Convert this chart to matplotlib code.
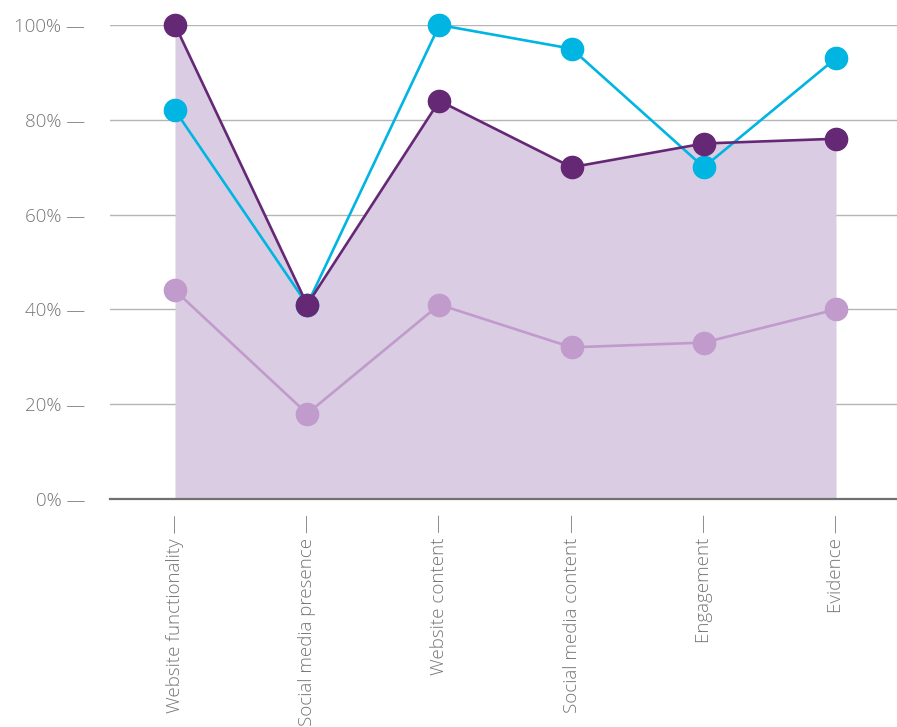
import matplotlib
matplotlib.use("Agg")
import matplotlib.pyplot as plt
import numpy as np

categories = ["Website functionality", "Social media presence", "Website content",
              "Social media content", "Engagement", "Evidence"]
dark_purple = [100, 41, 84, 70, 75, 76]
cyan = [82, 41, 100, 95, 70, 93]
light_purple = [44, 18, 41, 32, 33, 40]
y_ticks = [0, 20, 40, 60, 80, 100]

plt.rcParams['font.family'] = ['Open Sans', 'DejaVu Sans']

fig = plt.figure(figsize=(8.97, 7.27), dpi=100)
ax = fig.add_axes([110 / 897, 1 - 499 / 727, 787 / 897, 474 / 727])

x = np.arange(len(categories))

ax.fill_between(x, 0, dark_purple, color="#dacde3", lw=0, zorder=1)

for yt in y_ticks[1:]:
    ax.axhline(yt, color="#b5b5b5", lw=1.0, zorder=0.5)

ax.plot(x, light_purple, color="#c09bcb", lw=1.9, marker="o", ms=16, zorder=3, clip_on=False)
ax.plot(x, cyan, color="#00b5e2", lw=1.9, marker="o", ms=16, zorder=4, clip_on=False)
ax.plot(x, dark_purple, color="#652875", lw=1.9, marker="o", ms=16, zorder=5, clip_on=False)

ax.set_xlim(-(175 - 110) / 132.2, 5 + (897 - 836) / 132.2)
ax.set_ylim(0, 100)

ax.set_yticks(y_ticks)
ax.set_yticklabels([f"{v}% \u2014" for v in y_ticks], color="#767676", fontsize=13.5,
                   fontweight="light")
ax.set_xticks(x)
ax.set_xticklabels([c + " \u2014" for c in categories], rotation=90, color="#767676",
                   fontsize=13.5, fontweight="light", va="top", ha="center")
ax.tick_params(axis="y", length=0, pad=18)
ax.tick_params(axis="x", length=0, pad=11)

for s in ["top", "right", "left"]:
    ax.spines[s].set_visible(False)
ax.spines["bottom"].set_color("#707070")
ax.spines["bottom"].set_linewidth(1.6)
ax.spines["bottom"].set_zorder(6)

fig.savefig("out.png", dpi=100)
